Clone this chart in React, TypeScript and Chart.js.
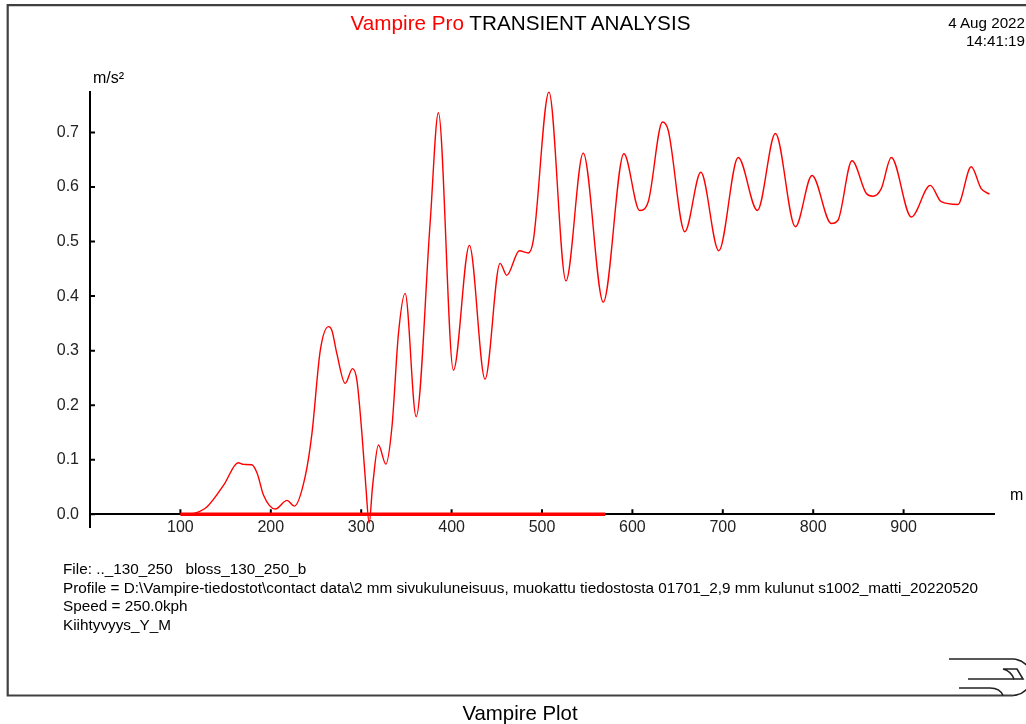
import { useEffect, useRef } from "react";
import { Chart, registerables } from "chart.js";

Chart.register(...registerables);

// Distance along the track (m) and lateral acceleration (m/s²)
const distance = [
  100, 110, 116, 129.5, 148, 164, 170, 179, 185, 192, 205, 218, 226, 238, 245.5,
  254.7, 263.9, 267.6, 273, 282.3, 290.4, 295.2, 300.8, 305.2, 308.8, 312.5, 319.1,
  327.3, 334, 341.2, 348.6, 360.8, 376.2, 385.4, 402, 419.7, 437, 453.6, 461, 475,
  484.9, 490.4, 507.7, 526.5, 545.6, 567.8, 590.6, 608, 617.5, 633.3, 639.6, 658,
  675.7, 695.6, 717, 738.3, 758.2, 780.3, 798.7, 820, 827.4, 842.9, 858.8, 866,
  875.3, 886.4, 908.5, 929.5, 941.6, 960, 974.8, 985.8, 995,
];
const acceleration = [
  0, 0, 0.002, 0.014, 0.054, 0.0945, 0.0915, 0.091, 0.075, 0.035, 0.0097, 0.0256,
  0.015, 0.069, 0.148, 0.3, 0.344, 0.337, 0.295, 0.24, 0.267, 0.246, 0.148, 0.05,
  -0.016, 0.05, 0.127, 0.092, 0.16, 0.331, 0.405, 0.179, 0.533, 0.736, 0.264, 0.493,
  0.248, 0.46, 0.438, 0.483, 0.479, 0.502, 0.774, 0.428, 0.662, 0.389, 0.661, 0.557,
  0.573, 0.719, 0.704, 0.518, 0.627, 0.483, 0.654, 0.557, 0.698, 0.527, 0.621, 0.533,
  0.539, 0.648, 0.588, 0.583, 0.597, 0.654, 0.545, 0.603, 0.573, 0.568, 0.637, 0.597,
  0.587,
];

// Highlighted section on the distance axis (m)
const sectionStart = 100;
const sectionEnd = 570;

const xTicks = [100, 200, 300, 400, 500, 600, 700, 800, 900];
const yTicks = [0, 0.1, 0.2, 0.3, 0.4, 0.5, 0.6, 0.7];

const X_MIN = 0;
const X_MAX = 1000;
const Y_MIN = -0.0232;
const Y_MAX = 0.775;

const FONT = '"Liberation Sans", Arial, Helvetica, sans-serif';

// Short tick marks drawn inward from both axes
const innerTicks = {
  id: "innerTicks",
  beforeDatasetsDraw(chart: any) {
    const { ctx, chartArea } = chart;
    const xs = chart.scales.x;
    const ys = chart.scales.y;
    const y0 = ys.getPixelForValue(0);
    ctx.save();
    ctx.strokeStyle = "#000";
    ctx.lineWidth = 2;
    ctx.beginPath();
    for (const v of yTicks) {
      const y = ys.getPixelForValue(v);
      ctx.moveTo(chartArea.left, y);
      ctx.lineTo(chartArea.left + 5, y);
    }
    for (const v of xTicks) {
      const x = xs.getPixelForValue(v);
      ctx.moveTo(x, y0);
      ctx.lineTo(x, y0 - 5);
    }
    ctx.stroke();
    ctx.restore();
  },
};

function TransientChart() {
  const canvasRef = useRef<HTMLCanvasElement | null>(null);

  useEffect(() => {
    const canvas = canvasRef.current;
    if (!canvas) return;
    const curve = distance.map((d, i) => ({ x: d, y: acceleration[i] }));
    const section = [
      { x: sectionStart, y: 0 },
      { x: sectionEnd, y: 0 },
    ];
    const chart = new Chart(canvas, {
      type: "line",
      data: {
        datasets: [
          {
            data: curve,
            borderColor: "#ff0000",
            borderWidth: 1.4,
            pointRadius: 0,
            cubicInterpolationMode: "monotone",
            fill: false,
          },
          {
            data: section,
            borderColor: "#ff0000",
            borderWidth: 3.5,
            pointRadius: 0,
            tension: 0,
            fill: false,
          },
        ],
      },
      options: {
        animation: false,
        responsive: false,
        events: [],
        layout: { padding: { left: 0, top: 91.5, right: 32, bottom: 197 } },
        plugins: {
          legend: { display: false },
          tooltip: { enabled: false },
        },
        scales: {
          x: {
            type: "linear",
            position: { y: 0 },
            min: X_MIN,
            max: X_MAX,
            grid: { display: false, drawTicks: false },
            border: { display: true, color: "#000", width: 2 },
            afterBuildTicks: (scale: any) => {
              scale.ticks = xTicks.map((v) => ({ value: v }));
            },
            ticks: {
              autoSkip: false,
              maxRotation: 0,
              padding: 4,
              color: "#222",
              font: { family: FONT, size: 16 },
              callback: (v: any) => String(v),
            },
          },
          y: {
            type: "linear",
            position: "left",
            min: Y_MIN,
            max: Y_MAX,
            grid: { display: false, drawTicks: false },
            border: { display: true, color: "#000", width: 2 },
            afterFit: (scale: any) => {
              scale.width = 90;
            },
            afterBuildTicks: (scale: any) => {
              scale.ticks = yTicks.map((v) => ({ value: v }));
            },
            ticks: {
              padding: 11,
              color: "#222",
              font: { family: FONT, size: 16 },
              callback: (v: any) => Number(v).toFixed(1),
            },
          },
        },
      },
      plugins: [innerTicks],
    });
    return () => chart.destroy();
  }, []);

  return (
    <canvas
      ref={canvasRef}
      width={1026}
      height={724}
      style={{ position: "absolute", left: 0, top: 0, width: 1026, height: 724 }}
    />
  );
}

const textBase: any = {
  position: "absolute",
  fontFamily: FONT,
  color: "#000",
  whiteSpace: "pre",
  margin: 0,
};

export default function App() {
  return (
    <div
      style={{
        position: "fixed",
        left: 0,
        top: 0,
        width: 1026,
        height: 724,
        overflow: "hidden",
        background: "#fff",
      }}
    >
      <TransientChart />

      <svg
        width={1026}
        height={724}
        style={{ position: "absolute", left: 0, top: 0, pointerEvents: "none" }}
      >
        {/* page frame */}
        <path d="M1030 5.2 H7.7 V695.5 H1013" fill="none" stroke="#404040" strokeWidth={2.2} />
        {/* train logo */}
        <g fill="none" stroke="#222" strokeWidth={1.6}>
          <path d="M949 659 H1013 A20 18.3 0 0 1 1013 695.5" />
          <path d="M968 679 H1014" />
          <path d="M1003 669 H1017 L1023 679 H1014 Q1011 671 1003 669" />
          <path d="M959 688 H990 Q1000 688 1003 695.5" />
        </g>
      </svg>

      <div
        style={{
          ...textBase,
          left: 0,
          width: 1041,
          top: 12.9,
          fontSize: 20.7,
          lineHeight: "20.7px",
          textAlign: "center",
        }}
      >
        <span style={{ color: "#ff0000" }}>Vampire Pro</span> TRANSIENT ANALYSIS
      </div>

      <div
        style={{
          ...textBase,
          right: 1,
          top: 13.6,
          fontSize: 15.2,
          lineHeight: "18px",
          textAlign: "right",
        }}
      >
        {"4 Aug 2022\n14:41:19"}
      </div>

      <div style={{ ...textBase, left: 93, top: 69.5, fontSize: 16, lineHeight: "16px" }}>
        m/s²
      </div>
      <div style={{ ...textBase, left: 1010, top: 486.5, fontSize: 16, lineHeight: "16px" }}>
        m
      </div>

      <div
        style={{
          ...textBase,
          left: 63,
          top: 559.8,
          fontSize: 15.3,
          lineHeight: "18.7px",
        }}
      >
        {"File: .._130_250   bloss_130_250_b\n" +
          "Profile = D:\\Vampire-tiedostot\\contact data\\2 mm sivukuluneisuus, muokattu tiedostosta 01701_2,9 mm kulunut s1002_matti_20220520\n" +
          "Speed = 250.0kph\n" +
          "Kiihtyvyys_Y_M"}
      </div>

      <div
        style={{
          ...textBase,
          left: 0,
          width: 1040,
          top: 703,
          fontSize: 20.4,
          lineHeight: "20.4px",
          textAlign: "center",
        }}
      >
        Vampire Plot
      </div>
    </div>
  );
}
